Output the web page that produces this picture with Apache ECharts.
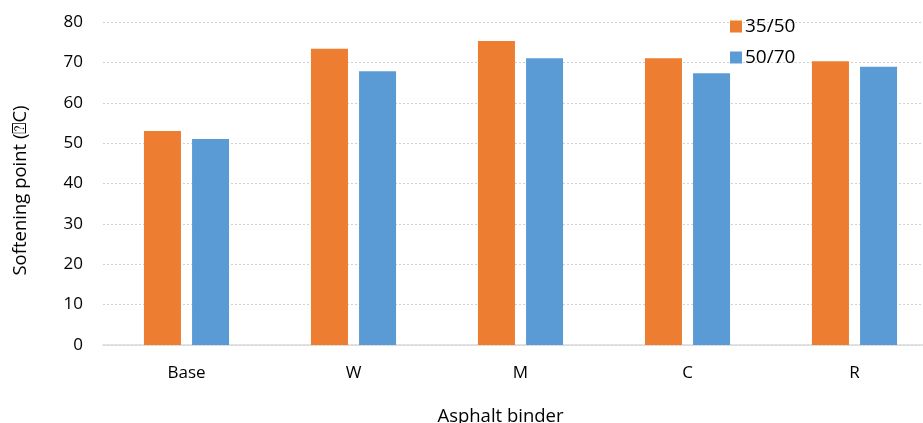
<!DOCTYPE html>
<html>
<head>
<meta charset="utf-8">
<script src="https://cdn.jsdelivr.net/npm/echarts@6/dist/echarts.min.js"></script>
<style>
  html, body { margin: 0; padding: 0; background: #fff; overflow: hidden; }
  #chart { width: 923px; height: 423px; }
</style>
</head>
<body>
<div id="chart"></div>
<script>
// Softening point of each asphalt binder, two penetration grades
const categories = ['Base', 'W', 'M', 'C', 'R'];
const seriesNames = ['35/50', '50/70'];
const values3550 = [53.0, 73.4, 75.3, 71.0, 70.3];
const values5070 = [51.0, 67.8, 71.0, 67.3, 68.9];
const yTicks = [0, 10, 20, 30, 40, 50, 60, 70, 80];

const FONT = '"Open Sans", "Noto Sans", sans-serif';
const chart = echarts.init(document.getElementById('chart'));

chart.setOption({
  animation: false,
  textStyle: { fontFamily: FONT },
  color: ['#ED7D31', '#5B9BD5'],
  // plot area runs slightly past the right edge of the canvas
  grid: {
    left: 103, width: 835, top: 22, height: 323,
    containLabel: false, outerBoundsMode: 'none'
  },
  legend: {
    orient: 'vertical',
    left: 725,
    top: 12,
    itemWidth: 12,
    itemHeight: 12,
    itemGap: 12,
    icon: 'rect',
    data: seriesNames,
    textStyle: { fontSize: 19, color: '#000', fontFamily: FONT, padding: [0, 0, 0, -2] }
  },
  xAxis: {
    type: 'category',
    data: categories,
    name: 'Asphalt binder',
    nameLocation: 'middle',
    nameGap: 62,
    nameTextStyle: { fontSize: 18.5, color: '#000', padding: [0, 40, 0, 0] },
    axisLine: { lineStyle: { color: '#d9d9d9', width: 1.5 } },
    axisTick: { show: false },
    axisLabel: { fontSize: 17, color: '#000', margin: 20 }
  },
  yAxis: {
    type: 'value',
    min: yTicks[0],
    max: yTicks[yTicks.length - 1],
    interval: 10,
    name: 'Softening point (⍰C)',
    nameLocation: 'middle',
    nameGap: 73,
    nameTextStyle: { fontSize: 18.5, color: '#000', padding: [0, 14, 0, 0] },
    axisLine: { show: false },
    axisTick: { show: false },
    axisLabel: { fontSize: 17, color: '#000', margin: 20 },
    splitLine: { lineStyle: { color: '#d0d0d0', type: [2, 2], width: 1 } }
  },
  series: [
    {
      name: seriesNames[0],
      type: 'bar',
      data: values3550,
      barWidth: 37,
      barGap: '30%'
    },
    {
      name: seriesNames[1],
      type: 'bar',
      data: values5070,
      barWidth: 37,
      barGap: '30%'
    }
  ]
});
</script>
</body>
</html>
